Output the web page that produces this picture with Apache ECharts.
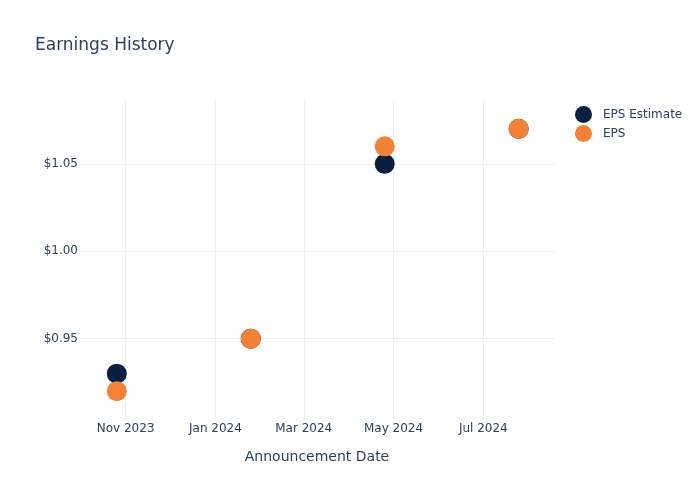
<!DOCTYPE html>
<html>
<head>
<meta charset="utf-8">
<script src="https://cdn.jsdelivr.net/npm/echarts@6/dist/echarts.min.js"></script>
<style>html,body{margin:0;padding:0;background:#fff}#c{width:700px;height:500px}</style>
</head>
<body>
<div id="c"></div>
<script>
const dates = ['2023-10-26', '2024-01-25', '2024-04-25', '2024-07-25'];
const epsEstimate = [0.93, 0.95, 1.05, 1.07];
const eps = [0.92, 0.95, 1.06, 1.07];
const yTicks = [0.95, 1.00, 1.05];
const xTicks = ['2023-11-01', '2024-01-01', '2024-03-01', '2024-05-01', '2024-07-01'];
const monthNames = ['Jan','Feb','Mar','Apr','May','Jun','Jul','Aug','Sep','Oct','Nov','Dec'];

const ts = s => new Date(s + 'T00:00:00Z').getTime();
const font = 'DejaVu Sans';
const txt = '#2a3f5f';
const grid = '#ebf0f8';

const chart = echarts.init(document.getElementById('c'));
chart.setOption({
  animation: false,
  backgroundColor: '#fff',
  title: {
    text: 'Earnings History', left: 30, top: 32,
    textStyle: { fontFamily: font, fontSize: 17, fontWeight: 'normal', color: txt }
  },
  legend: {
    orient: 'vertical', left: 570, top: 101, itemGap: 2,
    icon: 'circle', itemWidth: 17, itemHeight: 17,
    textStyle: { fontFamily: font, fontSize: 12, color: txt, padding: [0, 0, 0, 6] },
    data: ['EPS Estimate', 'EPS']
  },
  grid: { left: 80, right: 146, top: 100, bottom: 80 },
  xAxis: {
    type: 'value',
    min: ts('2023-10-01'), max: ts('2024-08-18'),
    name: 'Announcement Date', nameLocation: 'middle', nameGap: 30,
    nameTextStyle: { fontFamily: font, fontSize: 14, color: txt },
    axisLine: { show: false },
    axisTick: { show: false, customValues: xTicks.map(ts) },
    axisLabel: {
      customValues: xTicks.map(ts), margin: 3,
      fontFamily: font, fontSize: 12, color: txt,
      formatter: v => { const d = new Date(v); return monthNames[d.getUTCMonth()] + ' ' + d.getUTCFullYear(); }
    },
    splitLine: { show: true, lineStyle: { color: grid, width: 1 } }
  },
  yAxis: {
    type: 'value', min: 0.9035, max: 1.0865,
    axisLine: { show: false },
    axisTick: { show: false, customValues: yTicks },
    axisLabel: {
      customValues: yTicks, margin: 2,
      fontFamily: font, fontSize: 12, color: txt,
      formatter: v => '$' + v.toFixed(2)
    },
    splitLine: { show: true, lineStyle: { color: grid, width: 1 } }
  },
  series: [
    {
      name: 'EPS Estimate', type: 'scatter', symbolSize: 20,
      itemStyle: { color: '#0b1f42', opacity: 1 },
      data: dates.map((d, i) => [ts(d), epsEstimate[i]])
    },
    {
      name: 'EPS', type: 'scatter', symbolSize: 20,
      itemStyle: { color: '#f58134', opacity: 1 },
      data: dates.map((d, i) => [ts(d), eps[i]])
    }
  ]
});
</script>
</body>
</html>
